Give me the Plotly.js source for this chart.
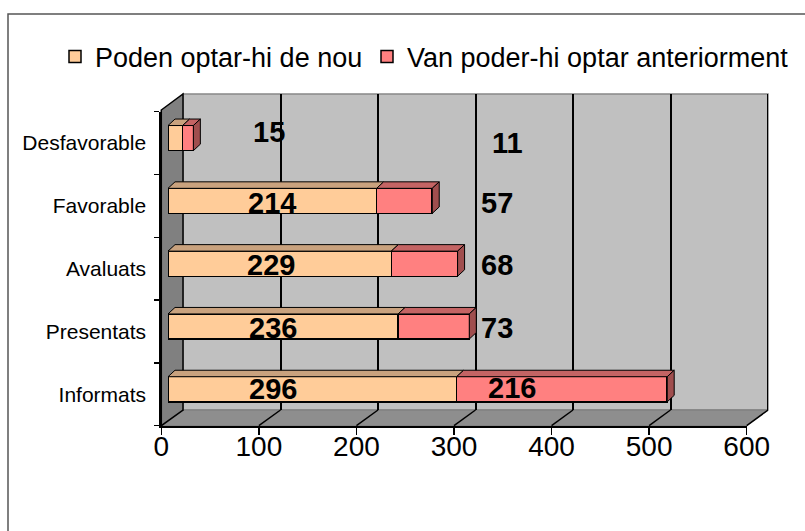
<!DOCTYPE html>
<html>
<head>
<meta charset="utf-8">
<script src="https://cdn.plot.ly/plotly-3.0.1.min.js"></script>
<style>html,body{margin:0;padding:0;background:#fff;}#chart{width:805px;height:531px;}</style>
</head>
<body>
<div id="chart"></div>
<script>
// ---- data ----
const categories = ['Informats', 'Presentats', 'Avaluats', 'Favorable', 'Desfavorable'];
const podenOptar = [296, 236, 229, 214, 15];
const vanPoder = [216, 73, 68, 57, 11];
const seriesNames = ['Poden optar-hi de nou', 'Van poder-hi optar anteriorment'];
const xTickVals = [0, 100, 200, 300, 400, 500, 600];

// ---- label placement (Excel 3D label spots, in axis units) ----
const labelX1 = [108, 108, 106, 107, 104];
const labelDy1 = [0, -0.02, -0.02, -0.03, 0.09];
const labelX2 = [353, 337, 337, 337, 348];
const labelDy2 = [0.02, -0.02, -0.02, -0.03, -0.07];

// ---- geometry (pixels) ----
const W = 805, H = 531;
const L = 150, R = 30, T = 90, B = 95;
const PW = W - L - R, PH = H - T - B;
const px = X => (X - L) / PW;
const py = Y => (H - B - Y) / PH;
const XMAX = 600, NCAT = categories.length;

const back = {x0: 183, x1: 768, y0: 94, y1: 410};
const front = {x0: 161.3, x1: 746.7, y0: 111.7, y1: 425.7};
const barPlane = {x0: 168, x1: 753, y0: 106.7, y1: 420.7};

const FONT = 'Liberation Sans, Arial, sans-serif';
const barW = 0.4;
const depthPx = {dx: 7, dy: 6.5};
const dxU = depthPx.dx * XMAX / (barPlane.x1 - barPlane.x0);
const dyU = depthPx.dy * NCAT / (barPlane.y1 - barPlane.y0);

const colors = {
  peach: '#FFCC99', peachTop: '#C9A27E',
  red: '#FF8080', redTop: '#C46464', redSide: '#A04E4E',
  wall: '#C0C0C0', floor: '#8E8E8E', side: '#808080'
};

const idx = categories.map((c, i) => i);

const traces = [
  // back wall grid carrier
  {type: 'scatter', x: [null], y: [null], xaxis: 'x', yaxis: 'y', showlegend: false, hoverinfo: 'skip'},
  {type: 'bar', orientation: 'h', name: seriesNames[0], x: podenOptar, y: idx, xaxis: 'x2', yaxis: 'y2', legend: 'legend',
   width: barW, marker: {color: colors.peach, line: {color: '#000', width: 1.5}}, hoverinfo: 'x'},
  {type: 'bar', orientation: 'h', name: seriesNames[1], x: vanPoder, y: idx, xaxis: 'x2', yaxis: 'y2', legend: 'legend2',
   width: barW, marker: {color: colors.red, line: {color: '#000', width: 1.5}}, hoverinfo: 'x'},
  // front axes carrier
  {type: 'scatter', x: categories.map(() => null), y: categories, xaxis: 'x3', yaxis: 'y3', showlegend: false, hoverinfo: 'skip'}
];

const shapes = [];
const P = (X, Y) => px(X) + ',' + py(Y);
// outer border
shapes.push({type: 'rect', xref: 'paper', yref: 'paper', layer: 'below',
  x0: px(8), x1: px(815), y0: py(14), y1: py(545), line: {color: '#555', width: 1.5}, fillcolor: 'rgba(0,0,0,0)'});
// back wall
shapes.push({type: 'rect', xref: 'paper', yref: 'paper', layer: 'below',
  x0: px(back.x0), x1: px(back.x1), y0: py(back.y1), y1: py(back.y0),
  fillcolor: colors.wall, line: {color: '#888', width: 1.5}});
// floor
shapes.push({type: 'path', xref: 'paper', yref: 'paper', layer: 'below',
  path: 'M' + P(front.x0, front.y1) + 'L' + P(back.x0, back.y1) + 'L' + P(back.x1, back.y1) + 'L' + P(front.x1, front.y1) + 'Z',
  fillcolor: colors.floor, line: {color: '#7a7a7a', width: 1}});
// left wall
shapes.push({type: 'path', xref: 'paper', yref: 'paper', layer: 'below',
  path: 'M' + P(front.x0, front.y0 - 1.7) + 'L' + P(back.x0, back.y0) + 'L' + P(back.x0, back.y1) + 'L' + P(front.x0, front.y1) + 'Z',
  fillcolor: colors.side, line: {color: '#000', width: 1.5}});
// back wall right edge gridline (at axis max)
shapes.push({type: 'line', xref: 'x', yref: 'y', layer: 'below', x0: XMAX, x1: XMAX, y0: 0, y1: 1,
  line: {color: '#000', width: 2}});
// floor grid diagonals anchored to back-wall axis values
xTickVals.forEach(v => {
  const shift = (front.x0 + v * (front.x1 - front.x0) / XMAX) - (back.x0 + v * (back.x1 - back.x0) / XMAX);
  shapes.push({type: 'line', xref: 'x', yref: 'paper', xsizemode: 'pixel', xanchor: v, layer: 'below',
    x0: 0, x1: shift, y0: py(back.y1), y1: py(front.y1), line: {color: '#000', width: 1.5}});
});

// 3D faces of bars
categories.forEach((c, i) => {
  const segs = [[0, podenOptar[i], colors.peachTop], [podenOptar[i], podenOptar[i] + vanPoder[i], colors.redTop]];
  const yt = i + barW / 2, yb = i - barW / 2;
  segs.forEach(([s, e, col]) => {
    shapes.push({type: 'path', xref: 'x2', yref: 'y2', layer: 'above',
      path: `M${s},${yt}L${s + dxU},${yt + dyU}L${e + dxU},${yt + dyU}L${e},${yt}Z`,
      fillcolor: col, line: {color: '#000', width: 1}});
  });
  const e = podenOptar[i] + vanPoder[i];
  shapes.push({type: 'path', xref: 'x2', yref: 'y2', layer: 'above',
    path: `M${e},${yb}L${e},${yt}L${e + dxU},${yt + dyU}L${e + dxU},${yb + dyU}Z`,
    fillcolor: colors.redSide, line: {color: '#000', width: 1}});
});

const annotations = [];
categories.forEach((c, i) => {
  annotations.push({xref: 'x2', yref: 'y2', x: labelX1[i], y: i + labelDy1[i], text: String(podenOptar[i]),
    showarrow: false, font: {family: FONT, size: 29, color: '#000', weight: 'bold'}});
  annotations.push({xref: 'x2', yref: 'y2', x: labelX2[i], y: i + labelDy2[i], text: String(vanPoder[i]),
    showarrow: false, font: {family: FONT, size: 29, color: '#000', weight: 'bold'}});
});

const legendBase = {orientation: 'h', xref: 'container', yref: 'container', y: 1 - 57 / H,
  xanchor: 'left', yanchor: 'middle', font: {family: FONT, size: 27, color: '#000'},
  bgcolor: 'rgba(0,0,0,0)', itemclick: false};

const layout = {
  width: W, height: H,
  margin: {l: L, r: R, t: T, b: B, pad: 0, autoexpand: false},
  paper_bgcolor: '#fff', plot_bgcolor: 'rgba(0,0,0,0)',
  font: {family: FONT, color: '#000'},
  barmode: 'stack', bargap: 0,
  showlegend: true,
  legend: Object.assign({}, legendBase, {x: 55 / W}),
  legend2: Object.assign({}, legendBase, {x: 367 / W}),
  // back wall axes (gridlines)
  xaxis: {domain: [px(back.x0), px(back.x1)], range: [0, XMAX], anchor: 'y', tickvals: xTickVals,
    showgrid: true, gridcolor: '#000', gridwidth: 2, zeroline: false, showticklabels: false, ticks: '', showline: false, fixedrange: true},
  yaxis: {domain: [py(back.y1), py(back.y0)], range: [0, 1], anchor: 'x', visible: false, fixedrange: true},
  // bar plane axes
  xaxis2: {domain: [px(barPlane.x0), px(barPlane.x1)], range: [0, XMAX], anchor: 'y2', visible: false, fixedrange: true},
  yaxis2: {domain: [py(barPlane.y1), py(barPlane.y0)], range: [-0.5, NCAT - 0.5], anchor: 'x2', visible: false, fixedrange: true},
  // front axes (ticks & labels)
  xaxis3: {domain: [px(front.x0), px(front.x1)], range: [0, XMAX], anchor: 'y3', tickvals: xTickVals,
    showgrid: false, zeroline: false, showline: true, linecolor: '#000', linewidth: 2,
    ticks: 'outside', ticklen: 7, tickwidth: 1.5, tickcolor: '#000', ticklabelstandoff: -12,
    tickfont: {family: FONT, size: 28, color: '#000'}, fixedrange: true},
  yaxis3: {domain: [py(front.y1), py(front.y0)], type: 'category', categoryorder: 'array', categoryarray: categories,
    range: [-0.5, NCAT - 0.5], anchor: 'x3', tickson: 'boundaries', showgrid: false, zeroline: false,
    showline: true, linecolor: '#000', linewidth: 2, ticks: 'outside', ticklen: 5, tickwidth: 1.5, tickcolor: '#000',
    tickfont: {family: FONT, size: 21, color: '#000'}, ticklabelstandoff: 9, fixedrange: true},
  shapes: shapes,
  annotations: annotations
};

Plotly.newPlot('chart', traces, layout, {displayModeBar: false, staticPlot: true});
</script>
</body>
</html>
